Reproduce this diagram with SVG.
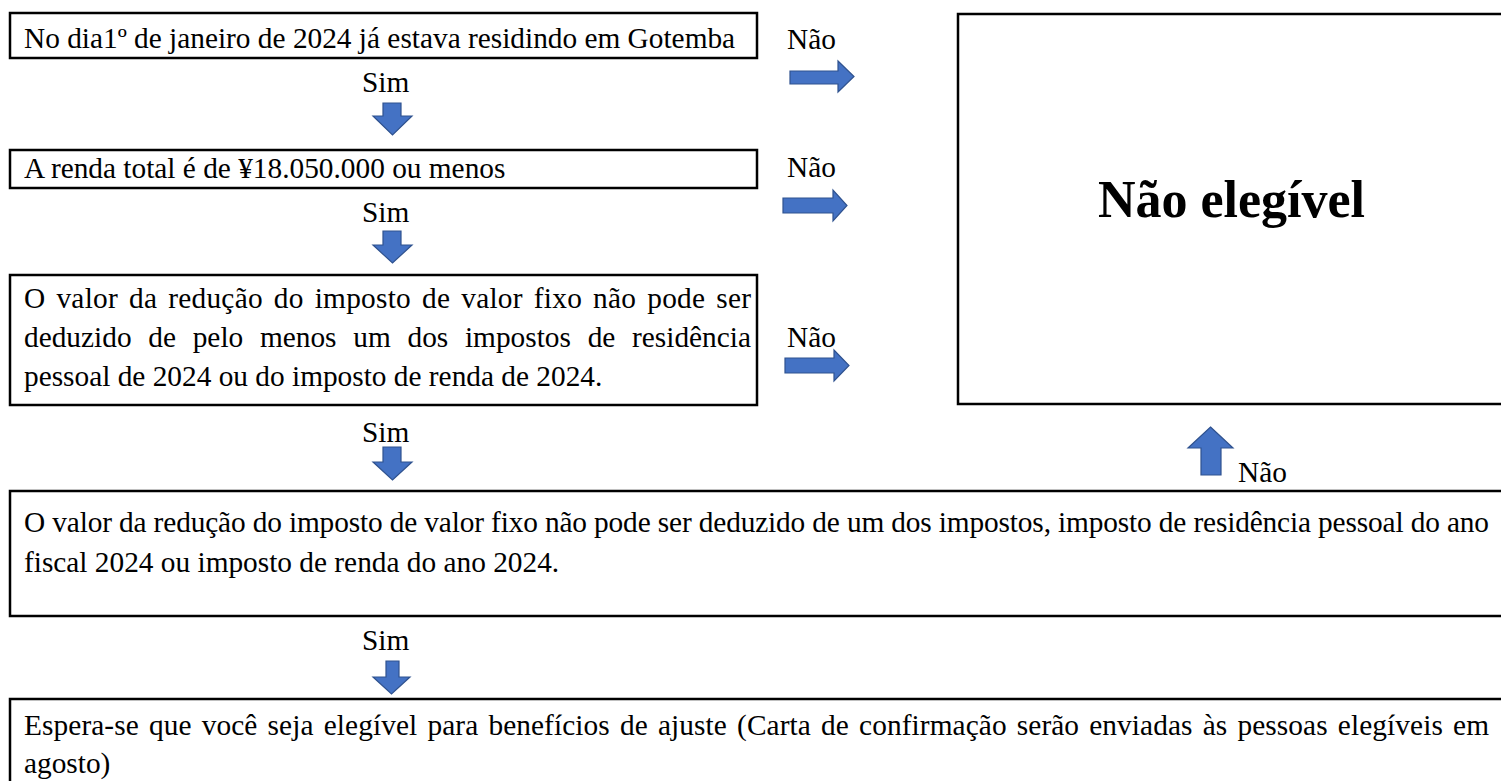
<svg xmlns="http://www.w3.org/2000/svg" width="1501" height="781" viewBox="0 0 1501 781">
<style>
.box{fill:#fff;stroke:#000;stroke-width:2.5}
.t{font-family:"Liberation Serif","Times New Roman",serif;font-size:29.33px;fill:#000}
.big{font-family:"Liberation Serif","Times New Roman",serif;font-size:52px;font-weight:bold;fill:#000}
.arr{fill:#4472C4;stroke:#2F528F;stroke-width:1.2}
</style>
<rect width="1501" height="781" fill="#fff"/>
<g id="n1">
<rect class="box" x="10" y="13" width="747" height="45"/>
<text class="t" x="24" y="48">No dia1º de janeiro de 2024 já estava residindo em Gotemba</text>
</g>
<g id="n2">
<rect class="box" x="10" y="150" width="747" height="38"/>
<text class="t" x="24" y="178">A renda total é de ¥18.050.000 ou menos</text>
</g>
<g id="n3">
<rect class="box" x="10" y="275" width="747" height="130"/>
<text class="t" x="24" y="308" word-spacing="3.4" textLength="727" lengthAdjust="spacing">O valor da redução do imposto de valor fixo não pode ser</text>
<text class="t" x="24" y="347" word-spacing="9.4" textLength="727" lengthAdjust="spacing">deduzido de pelo menos um dos impostos de residência</text>
<text class="t" x="24" y="386">pessoal de 2024 ou do imposto de renda de 2024.</text>
</g>
<g id="n_nao_elegivel">
<rect class="box" x="958" y="14" width="560" height="390"/>
<text class="big" x="1231.5" y="217" text-anchor="middle">Não elegível</text>
</g>
<g id="n4">
<rect class="box" x="10" y="491" width="1510" height="125"/>
<text class="t" x="24" y="532" textLength="1465" lengthAdjust="spacing">O valor da redução do imposto de valor fixo não pode ser deduzido de um dos impostos, imposto de residência pessoal do ano</text>
<text class="t" x="24" y="572">fiscal 2024 ou imposto de renda do ano 2024.</text>
</g>
<g id="n5">
<rect class="box" x="10" y="699" width="1510" height="100"/>
<text class="t" x="24" y="735" word-spacing="2.7" textLength="1465" lengthAdjust="spacing">Espera-se que você seja elegível para benefícios de ajuste (Carta de confirmação serão enviadas às pessoas elegíveis em</text>
<text class="t" x="24" y="773">agosto)</text>
</g>
<g id="connectors">
<polygon class="arr" points="383,103 401,103 401,116 412,116 392.5,135 373,116 383,116"/>
<text class="t" x="362" y="92">Sim</text>
<polygon class="arr" points="383,231 401,231 401,245 412,245 392.5,263 373,245 383,245"/>
<text class="t" x="362" y="222">Sim</text>
<polygon class="arr" points="383,447 401,447 401,462 412,462 392.5,480 373,462 383,462"/>
<text class="t" x="362" y="442">Sim</text>
<polygon class="arr" points="386,661 399,661 399,677 410,677 391.5,694 373,677 386,677"/>
<text class="t" x="362" y="650">Sim</text>
<polygon class="arr" points="790,71 838,71 838,61 854,76.5 838,92 838,84 790,84"/>
<text class="t" x="787" y="49">Não</text>
<polygon class="arr" points="783,198 833,198 833,190 847,205.5 833,221 833,213 783,213"/>
<text class="t" x="787" y="177">Não</text>
<polygon class="arr" points="785,358 834,358 834,350 849,365.5 834,381 834,373 785,373"/>
<text class="t" x="787" y="347">Não</text>
<polygon class="arr" points="1210.5,427 1233,448 1221,448 1221,475 1201,475 1201,448 1188,448"/>
<text class="t" x="1238" y="482">Não</text>
</g>
</svg>
